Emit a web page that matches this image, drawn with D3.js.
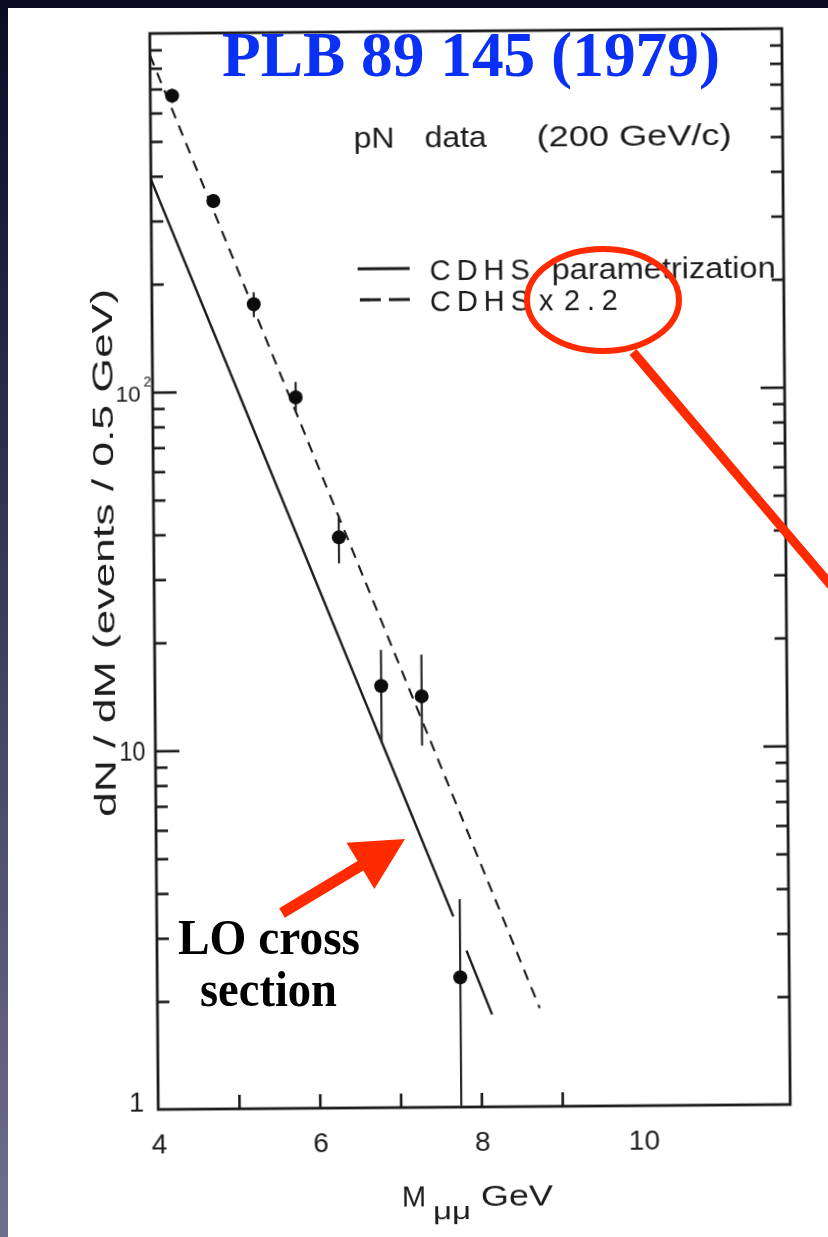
<!DOCTYPE html>
<html>
<head>
<meta charset="utf-8">
<script src="https://cdn.jsdelivr.net/npm/d3@7"></script>
<style>
  html, body { margin: 0; padding: 0; background: #fff; }
  svg { display: block; }
</style>
</head>
<body>
<svg id="chart" width="828" height="1237"></svg>
<script>
// Dimuon mass spectrum, pN data at 200 GeV/c, with the CDHS parametrization.
const massBins    = [4.27, 4.77, 5.26, 5.77, 6.29, 6.80, 7.30, 7.75];
const eventCounts = [670, 340, 175, 96, 39, 15, 14, 2.3];
const errLow      = [640, 325, 161, 88, 33, 10.5, 10.2, 1];
const errHigh     = [700, 355, 189, 106, 45, 18.9, 18.3, 3.8];

// CDHS parametrization (solid, interrupted near the last point) and CDHS x 2.2 (dashed)
const cdhsSolidSegments = [
  [[4.0, 392], [7.67, 3.4]],
  [[7.83, 2.73], [8.14, 1.81]]
];
const cdhsScaledLine = [[4.0, 870], [8.73, 1.88]];

const xTickLabels = [4, 6, 8, 10];
const xAxisTicks  = [5, 6, 7, 8, 9];
const yMajorTicks = [10, 100];
const yMinorTicks = [2, 3, 4, 5, 6, 7, 8, 9, 20, 30, 40, 50, 60, 70, 80, 90,
                     200, 300, 400, 500, 600, 700, 800, 900];

const W = 828, H = 1237;
const svg = d3.select("#chart");

// slide background
const defs = svg.append("defs");
const grad = defs.append("linearGradient").attr("id", "bg")
  .attr("x1", 0).attr("y1", 0).attr("x2", 0).attr("y2", 1);
grad.append("stop").attr("offset", "0%").attr("stop-color", "#0b0b24");
grad.append("stop").attr("offset", "100%").attr("stop-color", "#716f8e");
const soft = defs.append("filter").attr("id", "soft");
soft.append("feGaussianBlur").attr("stdDeviation", 0.45);

svg.append("rect").attr("width", W).attr("height", H).attr("fill", "url(#bg)");
svg.append("rect").attr("x", 8).attr("y", 8).attr("width", W - 8).attr("height", H - 8)
  .attr("fill", "#ffffff");

// plot frame
const frame = { left: 154, right: 786, top: 31, bottom: 1107 };
const x = d3.scaleLinear().domain([4, 11.82]).range([frame.left, frame.right]);
const y = d3.scaleLog().domain([1, 1000]).range([frame.bottom, frame.top]);

const ink = "#1a1a1a";
const sans = "'Liberation Sans', Arial, sans-serif";

const plot = svg.append("g")
  .attr("transform", "rotate(-0.45, 470, 569)")
  .attr("filter", "url(#soft)");

plot.append("rect")
  .attr("x", frame.left).attr("y", frame.top)
  .attr("width", frame.right - frame.left).attr("height", frame.bottom - frame.top)
  .attr("fill", "none").attr("stroke", ink).attr("stroke-width", 2.8);

function tickAxis(axis, tx, ty) {
  const g = plot.append("g").attr("transform", `translate(${tx},${ty})`).call(axis);
  g.select(".domain").remove();
  g.selectAll("line").attr("stroke", ink).attr("stroke-width", 2.6);
  g.selectAll("text").remove();
  return g;
}

// inward ticks on left and right sides
tickAxis(d3.axisLeft(y).tickValues(yMinorTicks).tickSize(-12).tickSizeOuter(0), frame.left, 0);
tickAxis(d3.axisLeft(y).tickValues(yMajorTicks).tickSize(-24).tickSizeOuter(0), frame.left, 0);
tickAxis(d3.axisRight(y).tickValues(yMinorTicks).tickSize(-12).tickSizeOuter(0), frame.right, 0);
tickAxis(d3.axisRight(y).tickValues(yMajorTicks).tickSize(-24).tickSizeOuter(0), frame.right, 0);
tickAxis(d3.axisBottom(x).tickValues(xAxisTicks).tickSize(-14).tickSizeOuter(0), 0, frame.bottom);

// y tick labels
const yLab = plot.append("g").attr("font-family", sans).attr("font-size", 27).attr("fill", ink);
yLab.append("text").attr("x", frame.left - 14).attr("y", y(1) + 2).attr("text-anchor", "end").text("1");
yLab.append("text").attr("x", frame.left - 10).attr("y", y(10) + 10)
  .attr("text-anchor", "end").attr("textLength", 26).attr("lengthAdjust", "spacingAndGlyphs").text("10");
yLab.append("text").attr("x", 117).attr("y", y(100) + 9)
  .attr("font-size", 22.5).text("10");
yLab.append("text").attr("x", 145).attr("y", y(100) - 6)
  .attr("font-size", 14).text("2");

// x tick labels
plot.append("g").attr("font-family", sans).attr("font-size", 28).attr("fill", ink)
  .selectAll("text").data(xTickLabels).join("text")
  .attr("x", d => x(d) + 1).attr("y", frame.bottom + 44)
  .attr("text-anchor", "middle").text(d => d);

// axis titles
const xTitle = plot.append("g").attr("font-family", sans).attr("fill", ink).attr("font-size", 29);
xTitle.append("text").attr("x", 397).attr("y", 1206).text("M");
xTitle.append("text").attr("x", 428).attr("y", 1219).attr("font-size", 23)
  .attr("textLength", 38).attr("lengthAdjust", "spacingAndGlyphs").text("μμ");
xTitle.append("text").attr("x", 476).attr("y", 1206)
  .attr("textLength", 72).attr("lengthAdjust", "spacingAndGlyphs").text("GeV");

plot.append("text").attr("font-family", sans).attr("font-size", 29).attr("fill", ink)
  .attr("transform", "translate(114, 550) rotate(-90)")
  .attr("text-anchor", "middle")
  .attr("textLength", 528).attr("lengthAdjust", "spacingAndGlyphs")
  .text("dN / dM   (events / 0.5 GeV)");

// curves
const line = d3.line().x(d => x(d[0])).y(d => y(d[1]));
plot.selectAll("path.cdhs").data(cdhsSolidSegments).join("path")
  .attr("class", "cdhs").attr("d", line)
  .attr("fill", "none").attr("stroke", ink).attr("stroke-width", 2.4);
plot.append("path").datum(cdhsScaledLine).attr("d", line)
  .attr("fill", "none").attr("stroke", ink).attr("stroke-width", 2.1)
  .attr("stroke-dasharray", "11,8");

// data points with error bars
const pts = massBins.map((m, i) => ({ m, n: eventCounts[i], lo: errLow[i], hi: errHigh[i] }));
plot.append("g").selectAll("line").data(pts).join("line")
  .attr("x1", d => x(d.m)).attr("x2", d => x(d.m))
  .attr("y1", d => y(d.lo)).attr("y2", d => y(d.hi))
  .attr("stroke", "#2a2a2a").attr("stroke-width", 2.2);
plot.append("g").selectAll("circle").data(pts).join("circle")
  .attr("cx", d => x(d.m)).attr("cy", d => y(d.n)).attr("r", 7)
  .attr("fill", "#0d0d0d");

// header and legend
const hdr = plot.append("g").attr("font-family", sans).attr("font-size", 29).attr("fill", ink);
hdr.append("text").attr("x", 357).attr("y", 147).attr("textLength", 41).attr("lengthAdjust", "spacingAndGlyphs").text("pN");
hdr.append("text").attr("x", 428).attr("y", 147).attr("textLength", 62).attr("lengthAdjust", "spacingAndGlyphs").text("data");
hdr.append("text").attr("x", 540).attr("y", 147).attr("textLength", 195).attr("lengthAdjust", "spacingAndGlyphs").text("(200 GeV/c)");

hdr.append("line").attr("x1", 360).attr("x2", 412).attr("y1", 268).attr("y2", 268)
  .attr("stroke", ink).attr("stroke-width", 3.2);
hdr.append("text").attr("x", 432).attr("y", 280).attr("textLength", 100).attr("lengthAdjust", "spacing").text("CDHS");
hdr.append("text").attr("x", 554).attr("y", 280).attr("textLength", 224).attr("lengthAdjust", "spacingAndGlyphs").text("parametrization");

hdr.append("line").attr("x1", 362).attr("x2", 412).attr("y1", 299).attr("y2", 299)
  .attr("stroke", ink).attr("stroke-width", 3.2).attr("stroke-dasharray", "21,8");
hdr.append("text").attr("x", 432).attr("y", 311).attr("textLength", 100).attr("lengthAdjust", "spacing").text("CDHS");
hdr.append("text").attr("x", 541).attr("y", 311).text("x");
hdr.append("text").attr("x", 566).attr("y", 311).attr("textLength", 54).attr("lengthAdjust", "spacing").text("2.2");

// reference label
svg.append("text").attr("x", 222).attr("y", 76)
  .attr("font-family", "'Liberation Serif', 'Times New Roman', serif")
  .attr("font-weight", "bold").attr("font-size", 64).attr("fill", "#0a2ff5")
  .attr("textLength", 498).attr("lengthAdjust", "spacingAndGlyphs")
  .text("PLB 89 145 (1979)");

// annotations
const red = "#ff2a00";
svg.append("ellipse").attr("cx", 603).attr("cy", 300).attr("rx", 76).attr("ry", 51)
  .attr("fill", "none").attr("stroke", red).attr("stroke-width", 6);
svg.append("line").attr("x1", 633).attr("y1", 352).attr("x2", 840).attr("y2", 596)
  .attr("stroke", red).attr("stroke-width", 9);

// thick arrow pointing at the LO curve
const tail = [282, 913], tip = [405, 839];
const ang = Math.atan2(tip[1] - tail[1], tip[0] - tail[0]);
const len = Math.hypot(tip[0] - tail[0], tip[1] - tail[1]);
const headLen = 52, headHalf = 27, shaftHalf = 5.5;
const arrowPts = [
  [0, -shaftHalf], [len - headLen, -shaftHalf], [len - headLen, -headHalf],
  [len, 0], [len - headLen, headHalf], [len - headLen, shaftHalf], [0, shaftHalf]
];
svg.append("polygon")
  .attr("points", arrowPts.map(p => p.join(",")).join(" "))
  .attr("transform", `translate(${tail[0]},${tail[1]}) rotate(${ang * 180 / Math.PI})`)
  .attr("fill", red);

const lo = svg.append("g").attr("font-family", "'Liberation Serif', 'Times New Roman', serif")
  .attr("font-weight", "bold").attr("font-size", 50).attr("fill", "#000");
lo.append("text").attr("x", 178).attr("y", 954).attr("textLength", 182).attr("lengthAdjust", "spacingAndGlyphs").text("LO cross");
lo.append("text").attr("x", 200).attr("y", 1006).attr("textLength", 137).attr("lengthAdjust", "spacingAndGlyphs").text("section");
</script>
</body>
</html>
